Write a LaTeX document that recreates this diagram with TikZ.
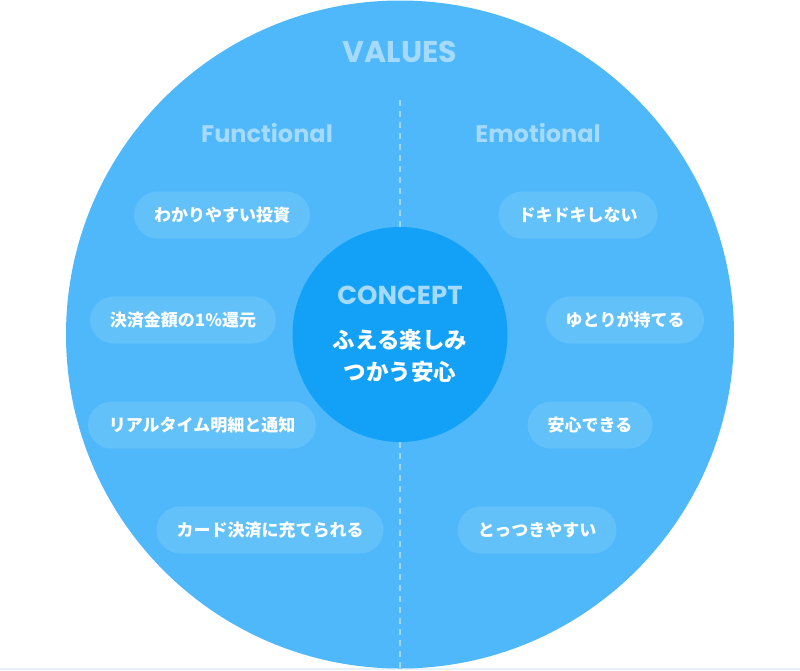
\documentclass[tikz,border=0pt]{standalone}
\usepackage{fontspec}
\setmainfont{Poppins}
\newfontfamily\jp{Noto Sans CJK JP}
\definecolor{bigc}{HTML}{4EB8FA}
\definecolor{corec}{HTML}{13A1F7}
\definecolor{pillc}{HTML}{63C1FA}
\definecolor{titlec}{HTML}{A5DAFC}
\definecolor{dashc}{HTML}{9FD6FB}
\definecolor{basec}{HTML}{E6F1FA}
\tikzset{
  pill/.style={fill=pillc, rounded corners=23.5pt, minimum height=47pt, inner sep=0pt,
    text=white, font=\jp\bfseries\fontsize{17}{20}\selectfont},
  ttl/.style={text=titlec, inner sep=0pt, font=\bfseries\fontsize{24}{28}\selectfont},
  dashline/.style={draw=dashc, line width=1.2pt, dash pattern=on 6pt off 5pt}
}
\begin{document}
\begin{tikzpicture}[x=1pt,y=-1pt]
\useasboundingbox (0,0) rectangle (800,670);
\fill[basec] (0,667.5) rectangle (800,670);
\fill[bigc] (400,334.5) circle (334);
\coordinate (ltop) at (400,100);
\coordinate (lbot) at (400,668);
\node[circle, fill=corec, minimum size=215pt, inner sep=0pt] (core) at (400,334.5) {};
\draw[dashline] (ltop) -- (core.north);
\draw[dashline] (core.south) -- (lbot);
\node[ttl, font=\bfseries\fontsize{30}{34}\selectfont] (values) at (400,52) {VALUES};
\node[ttl] (func) at (267,133) {Functional};
\node[ttl] (emo) at (538,133) {Emotional};
\node[ttl, font=\bfseries\fontsize{26}{30}\selectfont] (concept) at (400,295.5) {CONCEPT};
\node[text=white, inner sep=0pt, align=center, font=\jp\bfseries\fontsize{22.5}{32}\selectfont] (tagline) at (400,356) {ふえる楽しみ\\つかう安心};
\node[pill, minimum width=176pt] (f1) at (222,215) {わかりやすい投資};
\node[pill, minimum width=186pt] (f2) at (183,320) {決済金額の1\%還元};
\node[pill, minimum width=228pt] (f3) at (202,425) {リアルタイム明細と通知};
\node[pill, minimum width=227pt] (f4) at (270,530) {カード決済に充てられる};
\node[pill, minimum width=159pt] (e1) at (578,215) {ドキドキしない};
\node[pill, minimum width=158pt] (e2) at (625,320) {ゆとりが持てる};
\node[pill, minimum width=125pt] (e3) at (590,425) {安心できる};
\node[pill, minimum width=159pt] (e4) at (537,530) {とっつきやすい};
\end{tikzpicture}
\end{document}
